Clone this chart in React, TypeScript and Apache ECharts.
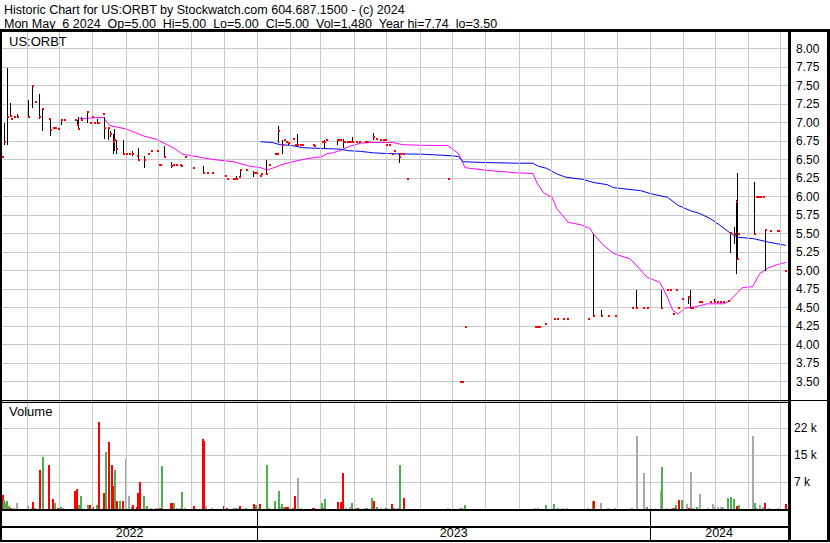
import React, { useEffect, useRef } from "react";
import * as echarts from "echarts";

// ---------- time base (calendar days counted from 2022-05-09) ----------
const DAY_MS = 86400000;
const START = Date.UTC(2022, 4, 9);
const END_DAY = 730;

// ---------- texts ----------
const TITLE_1 = "Historic Chart for US:ORBT by Stockwatch.com 604.687.1500 - (c) 2024";
const TITLE_2 = "Mon May  6 2024  Op=5.00  Hi=5.00  Lo=5.00  Cl=5.00  Vol=1,480  Year hi=7.74  lo=3.50";
const SYMBOL = "US:ORBT";
const VOLUME_TITLE = "Volume";
const yearLabels = ["2022", "2023", "2024"];

// ---------- daily close (red ticks) ----------
const closeDay = [
  0, 2, 5, 7, 8, 11, 14, 24, 28, 31,
  34, 37, 44, 45, 47, 49, 52, 55, 58, 68,
  70, 71, 73, 79, 82, 84, 85, 88, 89, 94,
  95, 98, 100, 103, 104, 106, 112, 115, 118, 121,
  125, 126, 132, 136, 138, 144, 146, 147, 150, 157,
  159, 162, 165, 166, 170, 177, 187, 190, 195, 207,
  209, 215, 216, 217, 220, 221, 227, 233, 235, 236,
  240, 241, 245, 248, 254, 255, 256, 260, 262, 264,
  266, 270, 272, 274, 277, 279, 289, 290, 297, 299,
  301, 311, 312, 314, 317, 318, 320, 322, 324, 325,
  329, 332, 337, 339, 345, 347, 351, 354, 356, 357,
  359, 362, 364, 369, 370, 372, 376, 414, 425, 427,
  430, 495, 497, 499, 504, 513, 515, 521, 525, 544,
  549, 556, 563, 569, 585, 589, 595, 599, 612, 618,
  620, 623, 626, 628, 632, 637, 639, 641, 647, 649,
  658, 661, 664, 667, 670, 674, 676, 680, 682, 683,
  684, 698, 700, 702, 704, 707, 709, 713, 720, 721,
  727,
];
const closeValue = [
  6.53, 6.73, 7.07, 7.09, 7.05, 7.07, 7.07, 7.08, 7.49, 7.28,
  7.07, 7.18, 7.05, 6.90, 6.92, 6.93, 6.91, 7.04, 7.04, 7.04,
  6.97, 6.91, 7.04, 7.14, 6.99, 7.07, 6.99, 6.99, 6.99, 7.11,
  6.93, 6.93, 6.84, 6.73, 6.77, 6.64, 6.58, 6.58, 6.58, 6.58,
  6.55, 6.49, 6.49, 6.58, 6.62, 6.62, 6.43, 6.43, 6.53, 6.41,
  6.42, 6.42, 6.42, 6.41, 6.54, 6.39, 6.32, 6.32, 6.32, 6.28,
  6.24, 6.24, 6.24, 6.24, 6.26, 6.36, 6.36, 6.32, 6.32, 6.32,
  6.28, 6.30, 6.31, 6.43, 6.58, 6.58, 6.89, 6.70, 6.77, 6.73,
  6.72, 6.78, 6.70, 6.70, 6.70, 6.70, 6.70, 6.68, 6.73, 6.73,
  6.77, 6.76, 6.76, 6.76, 6.73, 6.73, 6.73, 6.73, 6.73, 6.73,
  6.73, 6.73, 6.73, 6.73, 6.80, 6.78, 6.77, 6.77, 6.77, 6.70,
  6.70, 6.58, 6.62, 6.54, 6.58, 6.58, 6.23, 6.23, 3.50, 3.50,
  4.23, 4.23, 4.23, 4.23, 4.28, 4.34, 4.34, 4.34, 4.34, 4.34,
  4.39, 4.39, 4.39, 4.39, 4.50, 4.50, 4.49, 4.50, 4.50, 4.73,
  4.73, 4.41, 4.73, 4.50, 4.62, 4.64, 4.49, 4.49, 4.58, 4.58,
  4.58, 4.58, 4.57, 4.57, 4.57, 4.59, 5.51, 5.50, 5.93, 5.16,
  5.49, 5.49, 5.99, 5.99, 5.99, 5.99, 5.55, 5.54, 5.54, 5.54,
  5.00,
];

// ---------- daily high-low ranges (black bars) ----------
const rangeDay = [
  2, 5, 7, 14, 24, 28, 34, 37, 45, 55,
  70, 71, 73, 79, 88, 95, 98, 100, 103, 104,
  106, 112, 115, 121, 126, 132, 150, 157, 166, 187,
  217, 221, 233, 241, 245, 256, 260, 266, 274, 299,
  311, 317, 325, 345, 369, 549, 556, 589, 612, 637,
  639, 661, 676, 680, 682, 683, 698, 709,
];
const rangeHigh = [
  7.00, 7.74, 7.26, 7.12, 7.30, 7.50, 7.39, 7.19, 7.05, 7.05,
  7.04, 7.07, 7.07, 7.14, 7.05, 7.07, 6.93, 6.89, 6.85, 6.91,
  6.77, 6.76, 6.80, 6.62, 6.66, 6.55, 6.68, 6.46, 6.43, 6.41,
  6.28, 6.36, 6.34, 6.31, 6.50, 6.95, 6.77, 6.73, 6.85, 6.77,
  6.77, 6.78, 6.80, 6.86, 6.58, 5.50, 4.46, 4.74, 4.74, 4.64,
  4.74, 4.61, 5.51, 5.59, 5.95, 6.32, 6.20, 5.55,
];
const rangeLow = [
  6.69, 6.69, 7.09, 7.06, 7.08, 7.20, 7.05, 6.89, 6.82, 6.96,
  6.96, 6.91, 7.04, 6.99, 6.99, 6.78, 6.77, 6.80, 6.58, 6.62,
  6.58, 6.58, 6.58, 6.55, 6.49, 6.38, 6.53, 6.39, 6.41, 6.32,
  6.24, 6.28, 6.26, 6.26, 6.31, 6.72, 6.58, 6.70, 6.68, 6.66,
  6.70, 6.65, 6.73, 6.76, 6.45, 4.39, 4.39, 4.50, 4.50, 4.55,
  4.49, 4.56, 5.23, 5.36, 4.95, 5.16, 5.49, 5.00,
];

// ---------- moving averages ----------
const maShortDay = [
  72, 94, 100, 116, 131, 144, 153, 159, 168, 184,
  196, 215, 230, 240, 246, 251, 260, 270, 283, 297,
  302, 307, 314, 323, 333, 342, 363, 372, 395, 414,
  424, 427, 430, 435, 453, 478, 493, 497, 503, 511,
  515, 526, 537, 546, 549, 558, 568, 574, 583, 588,
  599, 611, 618, 623, 628, 634, 644, 655, 670, 676,
  683, 688, 697, 704, 711, 720, 728,
];
const maShortValue = [
  7.05, 7.07, 6.96, 6.91, 6.82, 6.77, 6.70, 6.66, 6.57, 6.53,
  6.50, 6.47, 6.41, 6.39, 6.36, 6.38, 6.43, 6.47, 6.51, 6.54,
  6.58, 6.59, 6.62, 6.68, 6.72, 6.73, 6.73, 6.70, 6.69, 6.69,
  6.58, 6.49, 6.39, 6.38, 6.35, 6.32, 6.31, 6.18, 6.05, 5.99,
  5.84, 5.65, 5.62, 5.57, 5.50, 5.35, 5.23, 5.20, 5.16, 5.09,
  4.91, 4.84, 4.64, 4.46, 4.41, 4.49, 4.51, 4.55, 4.55, 4.59,
  4.70, 4.77, 4.78, 4.96, 5.03, 5.08, 5.11,
];
const maLongDay = [
  240, 251, 258, 269, 279, 294, 314, 321, 333, 345,
  358, 393, 418, 424, 428, 446, 478, 493, 498, 506,
  516, 524, 540, 549, 562, 568, 586, 593, 602, 618,
  628, 639, 648, 658, 667, 676, 683, 698, 713, 728,
];
const maLongValue = [
  6.74, 6.73, 6.70, 6.69, 6.66, 6.65, 6.64, 6.62, 6.61, 6.59,
  6.58, 6.57, 6.55, 6.54, 6.47, 6.46, 6.45, 6.45, 6.41, 6.38,
  6.30, 6.26, 6.23, 6.19, 6.16, 6.12, 6.09, 6.08, 6.04, 5.99,
  5.88, 5.81, 5.77, 5.70, 5.61, 5.51, 5.45, 5.43, 5.38, 5.34,
];

// ---------- volume ----------
const volDay = [
  0, 1, 3, 4, 6, 7, 10, 13, 23, 27,
  28, 30, 34, 37, 43, 46, 48, 51, 54, 56,
  67, 69, 71, 72, 73, 79, 81, 84, 87, 89,
  94, 96, 98, 101, 102, 104, 106, 109, 111, 114,
  117, 120, 121, 124, 125, 127, 131, 134, 137, 142,
  144, 146, 148, 156, 158, 159, 162, 164, 166, 169,
  177, 186, 187, 189, 194, 205, 208, 215, 216, 219,
  220, 226, 233, 235, 237, 239, 245, 247, 253, 256,
  258, 259, 261, 263, 265, 269, 271, 274, 277, 288,
  289, 296, 298, 299, 311, 314, 316, 319, 322, 324,
  328, 330, 336, 338, 343, 345, 347, 351, 356, 357,
  361, 363, 367, 369, 372, 413, 425, 426, 429, 494,
  497, 504, 512, 515, 520, 524, 543, 548, 549, 555,
  562, 568, 584, 589, 595, 598, 611, 612, 617, 621,
  623, 625, 628, 631, 635, 637, 639, 641, 645, 647,
  655, 659, 661, 664, 667, 669, 673, 676, 679, 682,
  684, 697, 698, 700, 703, 706, 708, 711, 720, 727,
];
const volShares = [
  3900, 2500, 1600, 2300, 700, 400, 400, 1600, 800, 250,
  1900, 250, 10700, 14200, 12000, 2800, 1600, 250, 500, 250,
  4900, 5400, 1100, 3600, 250, 1100, 1100, 500, 1100, 23600,
  4400, 15500, 18200, 12000, 6300, 10700, 2100, 2100, 2300, 13700,
  3400, 500, 1100, 500, 4400, 7300, 3400, 900, 400, 250,
  400, 250, 11600, 1600, 1600, 1600, 250, 250, 4600, 250,
  700, 19100, 18600, 900, 250, 700, 250, 250, 250, 250,
  900, 250, 1400, 1100, 400, 1400, 12000, 250, 2300, 4900,
  500, 1400, 500, 500, 500, 250, 3400, 8300, 250, 250,
  250, 1600, 250, 2800, 1900, 1900, 9800, 250, 500, 1600,
  250, 250, 250, 250, 3000, 2300, 500, 250, 250, 250,
  1400, 250, 250, 12000, 3000, 250, 250, 250, 1100, 250,
  250, 1100, 1400, 250, 250, 250, 250, 2300, 2300, 1600,
  250, 250, 250, 19700, 9800, 500, 5000, 11500, 250, 250,
  250, 1100, 2500, 2500, 1400, 250, 10000, 250, 500, 4000,
  250, 1400, 500, 500, 500, 500, 3000, 3200, 2700, 900,
  1100, 19700, 1600, 250, 1100, 500, 1600, 250, 250, 1480,
];
// 1 = close up, -1 = close down, 0 = unchanged
const volChange = [
  -1, 1, 1, 1, 1, -1, 0, 0, 1, 1,
  -1, 1, -1, 1, -1, -1, 1, -1, 1, 0,
  -1, -1, 1, 1, 0, 1, -1, -1, 1, -1,
  -1, 1, -1, -1, -1, 1, -1, 1, -1, 0,
  0, 1, -1, -1, -1, -1, 1, 1, 0, 0,
  0, -1, 1, -1, -1, 1, 0, 0, 1, 0,
  -1, -1, -1, 0, 0, -1, -1, 0, 1, 1,
  -1, 1, -1, 1, 0, -1, 1, 0, 1, 1,
  0, 1, 1, -1, -1, 1, -1, 0, 0, -1,
  -1, 1, -1, 1, -1, -1, -1, 0, 0, 1,
  0, -1, 0, 1, 1, -1, 1, 0, -1, 0,
  -1, 1, 0, 1, -1, 0, -1, 0, 1, 0,
  0, 1, 1, 0, 0, 0, 0, 1, -1, 0,
  0, 0, 1, 0, 0, 1, 0, 1, 0, 0,
  -1, 1, -1, 1, 0, -1, 0, 0, 1, 0,
  0, 0, 0, 0, 0, 0, 1, 1, 1, -1,
  1, 0, 1, 0, 0, 0, -1, 0, 0, -1,
];

// ---------- axis settings ----------
const PRICE_MIN = 3.25;
const PRICE_MAX = 8.25;
const PRICE_STEP = 0.25;
const VOL_STEP = 22000 / 3;
const VOL_MAX = VOL_STEP * 4;

const FONT = '"Liberation Sans", Arial, Helvetica, sans-serif';
const GRID_COLOR = "#c8c8c8";
const UP_COLOR = "#4caf50";
const DOWN_COLOR = "#ff0000";
const FLAT_COLOR = "#a8a8a8";

const toTime = (d: number) => START + d * DAY_MS;

export default function App() {
  const ref = useRef<HTMLDivElement>(null);

  useEffect(() => {
    if (!ref.current) return;
    const chart = echarts.init(ref.current, null, { renderer: "svg" });

    const monthStarts: number[] = [];
    {
      let y = 2022;
      let m = 5;
      while (y < 2024 || (y === 2024 && m <= 4)) {
        monthStarts.push(Date.UTC(y, m, 1));
        m++;
        if (m > 11) {
          m = 0;
          y++;
        }
      }
    }
    const yearBounds = [START, Date.UTC(2023, 0, 1), Date.UTC(2024, 0, 1), toTime(END_DAY)];

    const monthLines = {
      silent: true,
      symbol: ["none", "none"],
      label: { show: false },
      lineStyle: { color: GRID_COLOR, width: 1, type: "solid" },
      emphasis: { disabled: true },
      data: monthStarts.map((t) => ({ xAxis: t })),
    };

    const rect = (x: number, y: number, w: number, h: number) => ({
      type: "rect",
      silent: true,
      z: 100,
      shape: { x, y, width: w, height: h },
      style: { fill: "#000" },
    });
    const text = (left: number, top: number, t: string, size: number) => ({
      type: "text",
      silent: true,
      z: 100,
      left,
      top,
      style: { text: t, fontSize: size, fontFamily: FONT, fill: "#000" },
    });

    const option: any = {
      animation: false,
      backgroundColor: "#ffffff",
      grid: [
        { left: 2, top: 30, width: 786, height: 370 },
        { left: 2, top: 401, width: 786, height: 108 },
        { left: 2, top: 511, width: 786, height: 29 },
      ],
      xAxis: [0, 1, 2].map((i) => ({
        type: "time",
        gridIndex: i,
        min: START,
        max: toTime(END_DAY),
        show: false,
      })),
      yAxis: [
        {
          type: "value",
          gridIndex: 0,
          position: "right",
          min: PRICE_MIN,
          max: PRICE_MAX,
          interval: PRICE_STEP,
          axisLine: { show: false },
          axisTick: { show: false },
          axisLabel: {
            margin: 8,
            color: "#000",
            fontSize: 12,
            fontFamily: FONT,
            showMinLabel: false,
            showMaxLabel: false,
            formatter: (v: number) => v.toFixed(2),
          },
          splitLine: { show: true, lineStyle: { color: GRID_COLOR, width: 1 } },
        },
        {
          type: "value",
          gridIndex: 1,
          position: "right",
          min: 0,
          max: VOL_MAX,
          interval: VOL_STEP,
          axisLine: { show: false },
          axisTick: { show: false },
          axisLabel: {
            margin: 6,
            color: "#000",
            fontSize: 12,
            fontFamily: FONT,
            showMinLabel: false,
            showMaxLabel: false,
            formatter: (v: number) => Math.round(v / 1000) + " k",
          },
          splitLine: { show: true, lineStyle: { color: GRID_COLOR, width: 1 } },
        },
        { type: "value", gridIndex: 2, min: 0, max: 1, show: false },
      ],
      series: [
        {
          type: "line",
          xAxisIndex: 0,
          yAxisIndex: 0,
          data: [],
          z: 1,
          silent: true,
          markLine: monthLines,
        },
        {
          type: "line",
          xAxisIndex: 1,
          yAxisIndex: 1,
          data: [],
          z: 1,
          silent: true,
          markLine: monthLines,
        },
        {
          type: "line",
          name: "MA short",
          xAxisIndex: 0,
          yAxisIndex: 0,
          data: maShortDay.map((d, i) => [toTime(d), maShortValue[i]]),
          showSymbol: false,
          symbol: "none",
          silent: true,
          z: 3,
          lineStyle: { color: "#ff00ff", width: 1 },
        },
        {
          type: "line",
          name: "MA long",
          xAxisIndex: 0,
          yAxisIndex: 0,
          data: maLongDay.map((d, i) => [toTime(d), maLongValue[i]]),
          showSymbol: false,
          symbol: "none",
          silent: true,
          z: 3,
          lineStyle: { color: "#0000ff", width: 1 },
        },
        {
          type: "custom",
          name: "Range",
          xAxisIndex: 0,
          yAxisIndex: 0,
          z: 4,
          silent: true,
          encode: { x: 0, y: [1, 2] },
          data: rangeDay.map((d, i) => [toTime(d), rangeHigh[i], rangeLow[i]]),
          renderItem: (params: any, api: any) => {
            const t = api.value(0);
            const hi = api.coord([t, api.value(1)]);
            const lo = api.coord([t, api.value(2)]);
            const x = Math.round(hi[0]);
            const y = Math.round(hi[1]);
            return {
              type: "rect",
              shape: { x, y, width: 1, height: Math.max(1, Math.round(lo[1]) - y) },
              style: { fill: "#000" },
            };
          },
        },
        {
          type: "custom",
          name: "Close",
          xAxisIndex: 0,
          yAxisIndex: 0,
          z: 5,
          silent: true,
          encode: { x: 0, y: 1 },
          data: closeDay.map((d, i) => [toTime(d), closeValue[i]]),
          renderItem: (params: any, api: any) => {
            const p = api.coord([api.value(0), api.value(1)]);
            return {
              type: "rect",
              shape: { x: Math.round(p[0]), y: Math.round(p[1]) - 1, width: 2, height: 2 },
              style: { fill: "#ff0000" },
            };
          },
        },
        {
          type: "custom",
          name: "Volume",
          xAxisIndex: 1,
          yAxisIndex: 1,
          z: 4,
          silent: true,
          encode: { x: 0, y: 1 },
          data: volDay.map((d, i) => [toTime(d), volShares[i]]),
          renderItem: (params: any, api: any) => {
            const t = api.value(0);
            const base = api.coord([t, 0]);
            const top = api.coord([t, api.value(1)]);
            const c = volChange[params.dataIndex];
            const y = Math.round(top[1]);
            return {
              type: "rect",
              shape: { x: Math.round(base[0]), y, width: 2, height: Math.max(1, Math.round(base[1]) - y) },
              style: { fill: c > 0 ? UP_COLOR : c < 0 ? DOWN_COLOR : FLAT_COLOR },
            };
          },
        },
        {
          type: "line",
          xAxisIndex: 2,
          yAxisIndex: 2,
          data: [],
          silent: true,
          z: 2,
          markLine: {
            silent: true,
            symbol: ["none", "none"],
            label: { show: false },
            lineStyle: { color: "#000", width: 1, type: "solid" },
            data: yearBounds.slice(1, 3).map((t) => ({ xAxis: t })),
          },
          markArea: {
            silent: true,
            itemStyle: { color: "rgba(0,0,0,0)" },
            label: {
              show: true,
              position: "insideBottom",
              distance: 1,
              color: "#000",
              fontSize: 12.5,
              fontFamily: FONT,
            },
            data: yearLabels.map((name, i) => [
              { name, xAxis: yearBounds[i] },
              { xAxis: yearBounds[i + 1] },
            ]),
          },
        },
      ],
      graphic: [
        text(4, 3, TITLE_1, 12.5),
        text(4, 17, TITLE_2, 12.5),
        text(9, 35, SYMBOL, 13),
        text(9, 405, VOLUME_TITLE, 13),
        rect(0, 29, 830, 3),
        rect(0, 29, 2, 513),
        rect(788, 29, 3, 513),
        rect(827, 29, 3, 513),
        rect(0, 400, 830, 1),
        rect(0, 402, 790, 1),
        rect(0, 509, 790, 2),
        rect(0, 526, 790, 2),
        rect(0, 540, 830, 2),
      ],
    };

    chart.setOption(option);
    return () => chart.dispose();
  }, []);

  return (
    <div
      ref={ref}
      style={{ position: "absolute", left: 0, top: 0, width: 830, height: 543, background: "#fff" }}
    />
  );
}
